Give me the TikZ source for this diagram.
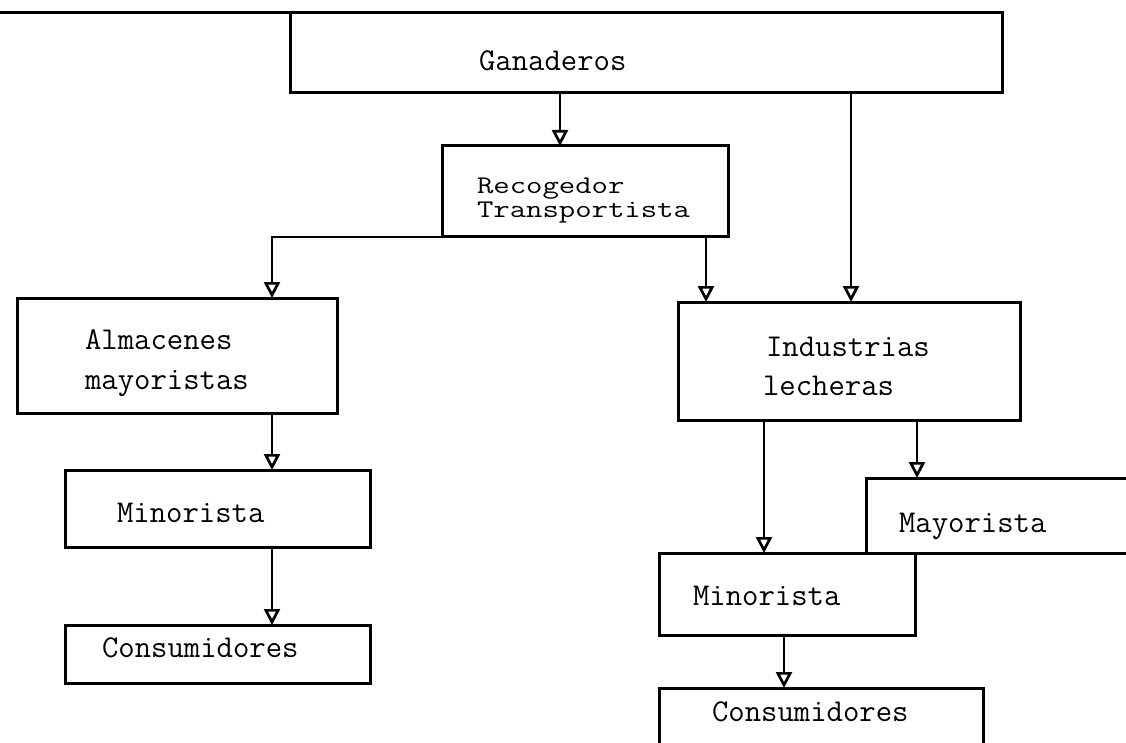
\documentclass[tikz,border=0pt]{standalone}
\usetikzlibrary{arrows.meta}
\begin{document}
\begin{tikzpicture}[x=1pt,y=-1pt,
  box/.style={draw, rectangle, line width=3pt, inner sep=0pt, outer sep=0pt},
  openbox/.style={rectangle, inner sep=0pt, outer sep=0pt},
  rule/.style={line width=3pt, line join=miter},
  conn/.style={line width=2.7pt, -{Triangle[open, length=16pt, width=16pt]}},
  txt/.style={font=\fontsize{31.8}{36}\selectfont\ttfamily, inner sep=0pt, outer sep=0pt, anchor=base west}]
\useasboundingbox (0,0) rectangle (1126,743);

% boxes
\node[box, minimum width=712pt, minimum height=80pt]  (gan)  at (646,53)    {};
\node[box, minimum width=286pt, minimum height=91pt]  (rec)  at (585,191.5) {};
\node[box, minimum width=320pt, minimum height=115pt] (alm)  at (177,355.5) {};
\node[box, minimum width=342pt, minimum height=118pt] (ind)  at (849,361)   {};
\node[box, minimum width=305pt, minimum height=77pt]  (minL) at (217.5,508.5) {};
\node[box, minimum width=305pt, minimum height=58pt]  (conL) at (217.5,654) {};
\node[openbox, minimum width=260pt, minimum height=75pt] (may) at (996,515.5) {};
\node[box, minimum width=256pt, minimum height=82pt]  (minR) at (787,594)   {};
\node[openbox, minimum width=324pt, minimum height=55pt] (conR) at (821,715.5) {};

% rule running from the left margin into the top box
\coordinate (margin) at (0,13);
\draw[rule] (margin) -- (gan.north west);

% boxes left open at the page border
\draw[rule] (may.north east) -- (may.north west) -- (may.south west) -- (may.south east);
\draw[rule] (conR.south west) -- (conR.north west) -- (conR.north east) -- (conR.south east);

% labels
\node[txt] (tgan)  at (479,71)  {Ganaderos};
\node[txt] (trec1) at (477,194) {\scalebox{1}[0.8]{Recogedor}};
\node[txt] (trec2) at (477,217.5) {\scalebox{1}[0.8]{Transportista}};
\node[txt] (talm1) at (85,349)  {Almacenes};
\node[txt] (talm2) at (85,389)  {mayoristas};
\node[txt] (tind1) at (766,356) {Industrias};
\node[txt] (tind2) at (763,395) {lecheras};
\node[txt] (tminL) at (117,522) {Minorista};
\node[txt] (tconL) at (102,657) {Consumidores};
\node[txt] (tmay)  at (899,532) {Mayorista};
\node[txt] (tminR) at (693,605) {Minorista};
\node[txt] (tconR) at (712,721) {Consumidores};

% flows
\draw[conn] ([xshift=-86pt]gan.south) -- ([xshift=-25pt]rec.north);
\draw[conn] ([xshift=205pt]gan.south) -- ([xshift=2pt]ind.north);
\draw[conn] (rec.south west) -| ([xshift=95pt]alm.north);
\draw[conn] ([xshift=-22pt]rec.south east) -- ([xshift=28pt]ind.north west);
\draw[conn] ([xshift=95pt]alm.south) -- ([xshift=54.5pt]minL.north);
\draw[conn] ([xshift=54.5pt]minL.south) -- ([xshift=54.5pt]conL.north);
\draw[conn] ([xshift=-85pt]ind.south) -- ([xshift=-23pt]minR.north);
\draw[conn] ([xshift=68pt]ind.south) -- ([xshift=-79pt]may.north);
\draw[conn] ([xshift=-3pt]minR.south) -- ([xshift=-37pt]conR.north);
\end{tikzpicture}
\end{document}
